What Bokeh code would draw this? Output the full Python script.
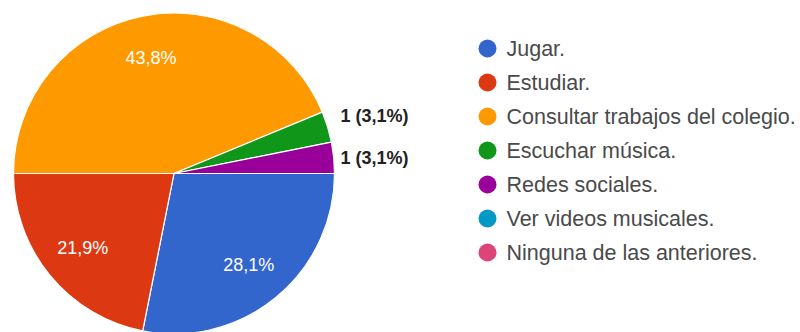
import math
from bokeh.plotting import figure
from bokeh.models import Range1d, ColumnDataSource
from bokeh.core.properties import value
from bokeh.embed import file_html
from bokeh.resources import INLINE

categories = ["Jugar.", "Estudiar.", "Consultar trabajos del colegio.",
              "Escuchar música.", "Redes sociales.", "Ver videos musicales.",
              "Ninguna de las anteriores."]
counts = [9, 7, 14, 1, 1, 0, 0]
colors = ["#3366cc", "#dc3912", "#ff9900", "#109618", "#990099", "#0099c6", "#dd4477"]

W, H = 800, 332
PAGE_H = 332
p = figure(width=W, height=H, output_backend="svg", toolbar_location=None,
           x_range=Range1d(0, W), y_range=Range1d(PAGE_H - H, PAGE_H),
           min_border=0)
p.axis.visible = False
p.grid.visible = False
p.outline_line_color = None
p.background_fill_color = "white"

cx, cy, R = 173.5, PAGE_H - 173, 160.5
total = sum(counts)
FONT = value("Liberation Sans")

# wedges (start at 3 o'clock, clockwise)
ws = dict(start=[], end=[], color=[])
inside = dict(x=[], y=[], t=[])
outside = []
cum = 0.0
for c, col in zip(counts, colors):
    if c == 0:
        continue
    s = cum / total
    e = (cum + c) / total
    cum += c
    ws["start"].append(-e * 2 * math.pi)
    ws["end"].append(-s * 2 * math.pi)
    ws["color"].append(col)
    mid = -(s + e) / 2 * 2 * math.pi
    pct = 100.0 * c / total
    pct_s = f"{pct:.1f}".replace(".", ",") + "%"
    if pct > 5:
        inside["x"].append(cx + 0.735 * R * math.cos(mid))
        inside["y"].append(cy + 0.735 * R * math.sin(mid))
        inside["t"].append(pct_s)
    else:
        outside.append([cy + R * math.sin(mid), f"{c} ({pct_s})"])

p.wedge(x=cx, y=cy, radius=R, start_angle="start", end_angle="end",
        fill_color="color", line_color="white", line_width=1.2,
        source=ColumnDataSource(ws))

p.text(x="x", y="y", text="t", source=ColumnDataSource(inside),
       text_color="white", text_font=FONT, text_font_size="18px",
       text_align="center", text_baseline="middle")

# outside labels with simple collision avoidance
outside.sort(key=lambda a: a[0])
for i in range(1, len(outside)):
    if outside[i][0] - outside[i - 1][0] < 42:
        outside[i][0] = outside[i - 1][0] + 42
p.text(x=[cx + R + 6] * len(outside), y=[o[0] for o in outside],
       text=[o[1] for o in outside], text_color="#222222", text_font=FONT,
       text_font_size="18px", text_font_style="bold",
       text_align="left", text_baseline="middle")

# legend
ly = [PAGE_H - 48 - 34 * i for i in range(len(categories))]
p.scatter(x=[487] * len(categories), y=ly, size=18, marker="circle",
          fill_color=colors, line_color=None)
p.text(x=[506] * len(categories), y=ly, text=categories, text_color="#4a4a4a",
       text_font=FONT, text_font_size="21.5px", text_align="left",
       text_baseline="middle")

open("out.html", "w").write(file_html(p, INLINE))
